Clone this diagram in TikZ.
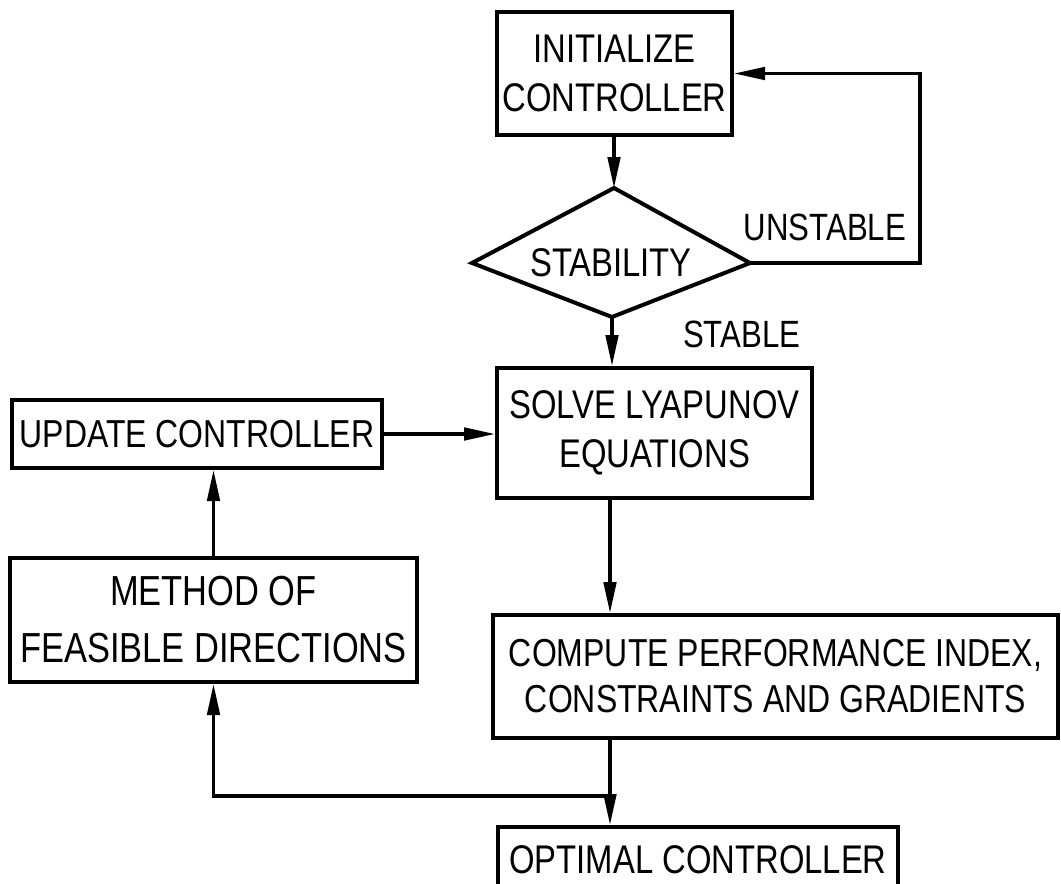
\documentclass[tikz,border=0pt]{standalone}
\usepackage{fontspec}
\setmainfont{Liberation Sans}[FakeStretch=0.82]
\usetikzlibrary{arrows.meta}
\begin{document}
\begin{tikzpicture}[x=1pt,y=-1pt,
  box/.style={draw, line width=4pt, inner sep=0pt, align=center},
  arr/.style={line width=3.3pt, -{Triangle[length=31pt,width=12.5pt]}},
  ln/.style={line width=3.3pt},
  fA/.style={font=\fontsize{40}{49}\selectfont},
  fB/.style={font=\fontsize{39}{46}\selectfont},
  fC/.style={font=\fontsize{42}{57}\selectfont},
  fL/.style={font=\fontsize{38}{46}\selectfont}]
\useasboundingbox (0,0) rectangle (1061,884);
\clip (0,0) rectangle (1061,884);

% boxes
\node[box, fA, minimum width=235pt, minimum height=123pt] (init) at (614.5,73.5) {INITIALIZE\\CONTROLLER};
\node[box, fB, minimum width=370pt, minimum height=68pt] (update) at (197,434) {UPDATE CONTROLLER};
\node[box, fA, minimum width=315pt, minimum height=130pt] (solve) at (654.5,433) {SOLVE LYAPUNOV\\EQUATIONS};
\node[box, fC, minimum width=407pt, minimum height=124pt] (method) at (213.5,620) {METHOD OF\\FEASIBLE DIRECTIONS};
\node[box, fB, minimum width=565pt, minimum height=123pt] (compute) at (775.5,676.5) {COMPUTE PERFORMANCE INDEX,\\CONSTRAINTS AND GRADIENTS};
\node[box, fA, minimum width=400pt, minimum height=66pt] (optimal) at (698,860) {OPTIMAL CONTROLLER};

% decision diamond
\coordinate (dt) at (614,188);
\coordinate (dl) at (472,263);
\coordinate (dr) at (750,263);
\coordinate (db) at (612,317);
\draw[line width=4pt, line join=miter] (dt) -- (dr) -- (db) -- (dl) -- cycle;
\node[fA, inner sep=0pt] (stab) at (611,263) {STABILITY};

% labels
\node[fL, inner sep=0pt] (unst) at (825,227) {UNSTABLE};
\node[fL, inner sep=0pt, anchor=base west] (stable) at (683,347) {STABLE};

% connectors
\coordinate (loopc) at (920,263);
\coordinate (junc) at (610,796);
\draw[arr] (init.south -| dt) -- (dt);
\draw[arr] (dr) -- (loopc) |- (init.east);
\draw[arr] (db) -- (db |- solve.north);
\draw[arr] (update.east) -- (solve.west |- update.east);
\draw[arr] (method.north) -- (method.north |- update.south);
\draw[arr] (solve.south -| junc) -- (compute.north -| junc);
\draw[ln] (compute.south -| junc) -- (junc);
\draw[arr] (junc) -- (optimal.north -| junc);
\draw[arr] (junc) -| (method.south);
\end{tikzpicture}
\end{document}
